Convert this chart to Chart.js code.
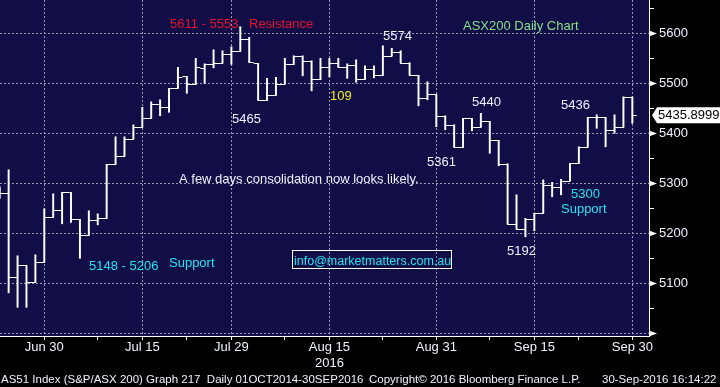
<!DOCTYPE html>
<html>
<head>
<meta charset="utf-8">
<script src="https://cdn.jsdelivr.net/npm/chart.js@4.4.1/dist/chart.umd.min.js"></script>
<style>
  html, body { margin: 0; padding: 0; background: #000; }
  canvas { display: block; }
</style>
</head>
<body>
<canvas id="asx-chart" width="720" height="387"></canvas>
<script>
// trading days shown on the chart
const dates = [
  'Jun 23', 'Jun 24', 'Jun 27', 'Jun 28', 'Jun 29', 'Jun 30',
  'Jul 1', 'Jul 4', 'Jul 5', 'Jul 6', 'Jul 7', 'Jul 8', 'Jul 11', 'Jul 12', 'Jul 13', 'Jul 14', 'Jul 15',
  'Jul 18', 'Jul 19', 'Jul 20', 'Jul 21', 'Jul 22', 'Jul 25', 'Jul 26', 'Jul 27', 'Jul 28', 'Jul 29',
  'Aug 1', 'Aug 2', 'Aug 3', 'Aug 4', 'Aug 5', 'Aug 8', 'Aug 9', 'Aug 10', 'Aug 11', 'Aug 12',
  'Aug 15', 'Aug 16', 'Aug 17', 'Aug 18', 'Aug 19', 'Aug 22', 'Aug 23', 'Aug 24', 'Aug 25', 'Aug 26',
  'Aug 29', 'Aug 30', 'Aug 31', 'Sep 1', 'Sep 2', 'Sep 5', 'Sep 6', 'Sep 7', 'Sep 8', 'Sep 9',
  'Sep 12', 'Sep 13', 'Sep 14', 'Sep 15', 'Sep 16', 'Sep 19', 'Sep 20', 'Sep 21', 'Sep 22', 'Sep 23',
  'Sep 26', 'Sep 27', 'Sep 28', 'Sep 29', 'Sep 30'
];

// OHLC values
const opens = [
  5288, 5281, 5112, 5136, 5102, 5142, 5232, 5246, 5282, 5228, 5196, 5227,
  5230, 5338, 5354, 5389, 5412, 5430, 5458, 5452, 5490, 5514, 5498, 5530,
  5539, 5540, 5559, 5564, 5588, 5540, 5466, 5476, 5499, 5538, 5555, 5545,
  5508, 5532, 5540, 5532, 5536, 5508, 5529, 5516, 5555, 5563, 5541, 5516,
  5470, 5478, 5435, 5417, 5372, 5430, 5413, 5424, 5386, 5339, 5219, 5209,
  5228, 5240, 5297, 5293, 5305, 5340, 5373, 5432, 5432, 5407, 5412, 5473
];
const highs = [
  5293, 5327, 5155, 5136, 5157, 5249, 5279, 5282, 5282, 5228, 5245, 5239,
  5338, 5393, 5393, 5417, 5452, 5463, 5467, 5490, 5532, 5514, 5550, 5539,
  5567, 5565, 5573, 5613, 5592, 5540, 5510, 5512, 5550, 5555, 5555, 5545,
  5550, 5550, 5550, 5539, 5547, 5535, 5535, 5575, 5570, 5565, 5541, 5516,
  5503, 5478, 5435, 5417, 5430, 5430, 5440, 5424, 5386, 5339, 5277, 5230,
  5240, 5307, 5302, 5308, 5340, 5373, 5432, 5437, 5432, 5437, 5473, 5473
];
const lows = [
  5270, 5081, 5052, 5052, 5102, 5142, 5232, 5219, 5222, 5150, 5196, 5217,
  5230, 5338, 5354, 5389, 5412, 5430, 5435, 5442, 5490, 5480, 5498, 5500,
  5531, 5540, 5538, 5564, 5542, 5466, 5466, 5476, 5499, 5538, 5515, 5485,
  5508, 5513, 5532, 5510, 5502, 5508, 5511, 5516, 5555, 5541, 5516, 5455,
  5467, 5413, 5407, 5372, 5372, 5405, 5413, 5360, 5335, 5219, 5209, 5193,
  5205, 5240, 5273, 5277, 5305, 5340, 5373, 5410, 5373, 5400, 5412, 5420
];
const closes = [
  5281, 5112, 5136, 5102, 5142, 5232, 5246, 5282, 5228, 5196, 5227, 5230,
  5338, 5354, 5389, 5412, 5430, 5458, 5452, 5490, 5512, 5498, 5533, 5539,
  5540, 5559, 5564, 5588, 5542, 5466, 5476, 5499, 5538, 5555, 5545, 5508,
  5532, 5540, 5532, 5536, 5508, 5529, 5516, 5555, 5563, 5541, 5516, 5471,
  5478, 5435, 5417, 5372, 5430, 5413, 5424, 5386, 5339, 5219, 5209, 5228,
  5240, 5297, 5293, 5305, 5340, 5373, 5432, 5432, 5407, 5412, 5473, 5435.8999
];

// axis ticks
const xMajorDates = ['Jun 30', 'Jul 15', 'Jul 29', 'Aug 15', 'Aug 31', 'Sep 15', 'Sep 30'];
const xMinorDates = ['Jul 8', 'Jul 22', 'Aug 8', 'Aug 23', 'Sep 8', 'Sep 22'];
const yearLabel = '2016';
const yMajorTicks = [5000, 5100, 5200, 5300, 5400, 5500, 5600];
const yMinorTicks = [5050, 5150, 5250, 5350, 5450, 5550, 5650];

const NAVY = '#100d47';
const GRID = '#9a9ab0';
const TEXT = '#eef2ff';
const RED = '#e4122c';
const CYAN = '#22e4f0';
const GREEN = '#86e086';
const YELLOW = '#f0f020';
const FONT = '"Liberation Sans", Arial, sans-serif';

const majorIdx = xMajorDates.map(d => dates.indexOf(d));
const minorIdx = xMinorDates.map(d => dates.indexOf(d));
const isMajorX = v => majorIdx.includes(v);
const isMajorY = v => yMajorTicks.includes(v);

const noPad = axis => {
  axis.paddingTop = 0;
  axis.paddingBottom = 0;
  axis.paddingLeft = 0;
  axis.paddingRight = 0;
};

const backdrop = {
  id: 'backdrop',
  beforeDraw(chart) {
    const {ctx, chartArea: a} = chart;
    ctx.save();
    ctx.fillStyle = '#000';
    ctx.fillRect(0, 0, chart.width, chart.height);
    ctx.fillStyle = NAVY;
    ctx.fillRect(a.left, a.top, a.right - a.left, a.bottom - a.top);
    ctx.restore();
  }
};

// open tick to the left, close tick to the right
const ohlcTicks = {
  id: 'ohlcTicks',
  afterDatasetsDraw(chart) {
    const {ctx, chartArea: a, scales: {x, y}} = chart;
    const half = (x.getPixelForValue(1) - x.getPixelForValue(0)) / 2;
    ctx.save();
    ctx.beginPath();
    ctx.rect(a.left, a.top, a.right - a.left, a.bottom - a.top);
    ctx.clip();
    ctx.strokeStyle = '#fff';
    ctx.lineWidth = 1.2;
    ctx.beginPath();
    dates.forEach((d, i) => {
      const px = x.getPixelForValue(i);
      const yo = Math.round(y.getPixelForValue(opens[i])) + 0.5;
      const yc = Math.round(y.getPixelForValue(closes[i])) + 0.5;
      ctx.moveTo(px - half, yo);
      ctx.lineTo(px + 0.6, yo);
      ctx.moveTo(px - 0.6, yc);
      ctx.lineTo(px + half, yc);
    });
    ctx.stroke();
    ctx.restore();
  }
};

const notes = [
  ['5611 - 5553', 170, 28, RED],
  ['Resistance', 249, 28, RED],
  ['ASX200 Daily Chart', 463, 30, GREEN],
  ['5574', 383, 40, TEXT],
  ['109', 330, 100, YELLOW],
  ['5465', 232, 123, TEXT],
  ['5440', 472, 106, TEXT],
  ['5436', 561, 109, TEXT],
  ['5361', 427, 166, TEXT],
  ['A few days consolidation now looks likely.', 179, 183, TEXT],
  ['5148 - 5206', 89, 270, CYAN],
  ['Support', 169, 267, CYAN],
  ['info@marketmatters.com.au', 294, 265, CYAN],
  ['5192', 507, 255, TEXT],
  ['5300', 571, 198, CYAN],
  ['Support', 561, 213, CYAN]
];

const extras = {
  id: 'extras',
  afterDraw(chart) {
    const {ctx, chartArea: a, scales: {y}} = chart;
    ctx.save();

    // arrows on the price axis
    ctx.fillStyle = '#fff';
    yMajorTicks.forEach(v => {
      const py = Math.round(y.getPixelForValue(v)) + 0.5;
      ctx.beginPath();
      ctx.moveTo(a.right, py - 3);
      ctx.lineTo(a.right + 8, py);
      ctx.lineTo(a.right, py + 3);
      ctx.closePath();
      ctx.fill();
    });

    // text notes
    ctx.textBaseline = 'alphabetic';
    ctx.textAlign = 'left';
    notes.forEach(([t, tx, ty, c]) => {
      ctx.font = (t.indexOf('@') > 0 ? '12.5px ' : '13px ') + FONT;
      ctx.fillStyle = c;
      ctx.fillText(t, tx, ty);
    });
    ctx.strokeStyle = '#fff';
    ctx.lineWidth = 1;
    ctx.strokeRect(292.5, 250.5, 159, 18);

    // last price tag
    const last = closes[closes.length - 1];
    const py = y.getPixelForValue(last);
    ctx.fillStyle = '#fff';
    ctx.beginPath();
    ctx.moveTo(a.right + 3, py);
    ctx.lineTo(a.right + 8, py - 8);
    ctx.lineTo(720, py - 8);
    ctx.lineTo(720, py + 8);
    ctx.lineTo(a.right + 8, py + 8);
    ctx.closePath();
    ctx.fill();
    ctx.fillStyle = '#000';
    ctx.font = '13px ' + FONT;
    ctx.textBaseline = 'middle';
    ctx.fillText(last.toFixed(4), a.right + 9, py + 0.5);

    // footer
    ctx.fillStyle = TEXT;
    ctx.font = '11.5px ' + FONT;
    ctx.textBaseline = 'alphabetic';
    ctx.fillText('AS51 Index (S&P/ASX 200) Graph 217  Daily 01OCT2014-30SEP2016', 1, 383);
    ctx.fillText('Copyright\u00a9 2016 Bloomberg Finance L.P.', 369, 383);
    ctx.fillText('30-Sep-2016 16:14:22', 602, 383);
    ctx.restore();
  }
};

new Chart(document.getElementById('asx-chart'), {
  type: 'bar',
  data: {
    datasets: [{
      data: dates.map((d, i) => ({x: i, y: [lows[i], highs[i]]})),
      backgroundColor: '#fff',
      barThickness: 1.3,
      grouped: false
    }]
  },
  options: {
    responsive: false,
    animation: false,
    layout: {padding: 0},
    plugins: {legend: {display: false}, tooltip: {enabled: false}},
    scales: {
      x: {
        type: 'linear',
        offset: false,
        min: 0.03,
        max: 72.87,
        afterBuildTicks: axis => {
          axis.ticks = majorIdx.concat(minorIdx).sort((p, q) => p - q).map(v => ({value: v}));
        },
        afterFit: axis => { axis.height = 51; noPad(axis); },
        grid: {
          offset: false,
          color: c => (c.tick && isMajorX(c.tick.value)) ? GRID : 'rgba(0,0,0,0)',
          tickColor: '#fff',
          tickLength: 4,
          lineWidth: 1
        },
        border: {color: '#fff', width: 1, dash: [2, 2]},
        ticks: {
          autoSkip: false,
          maxRotation: 0,
          minRotation: 0,
          padding: 0,
          color: TEXT,
          font: {family: FONT, size: 13},
          callback: v => {
            if (!isMajorX(v)) return '';
            const d = dates[v];
            return d === 'Aug 15' ? [d, yearLabel] : d;
          }
        }
      },
      y: {
        position: 'right',
        min: 4994.6,
        max: 5666.6,
        afterBuildTicks: axis => {
          axis.ticks = yMajorTicks.concat(yMinorTicks).sort((p, q) => p - q).map(v => ({value: v}));
        },
        afterFit: axis => { axis.width = 71; noPad(axis); },
        grid: {
          color: c => (c.tick && isMajorY(c.tick.value)) ? GRID : 'rgba(0,0,0,0)',
          tickColor: c => (c.tick && isMajorY(c.tick.value)) ? 'rgba(0,0,0,0)' : '#fff',
          tickLength: 5,
          lineWidth: 1
        },
        border: {color: '#fff', width: 1, dash: [2, 2]},
        ticks: {
          autoSkip: false,
          padding: 5,
          color: TEXT,
          font: {family: FONT, size: 13},
          callback: v => (isMajorY(v) && v > 5000) ? String(v) : ''
        }
      }
    }
  },
  plugins: [backdrop, ohlcTicks, extras]
});
</script>
</body>
</html>
